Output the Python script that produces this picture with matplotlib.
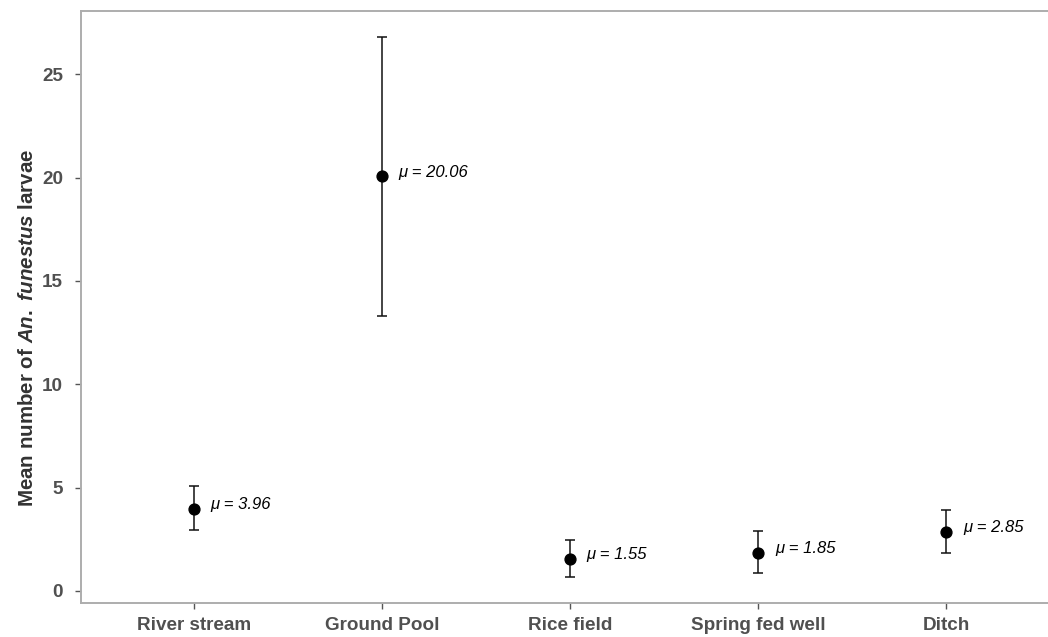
import matplotlib
matplotlib.use("Agg")
import matplotlib.pyplot as plt

# Larval habitat means with confidence limits
habitats = ["River stream", "Ground Pool", "Rice field", "Spring fed well", "Ditch"]
means = [3.96, 20.06, 1.55, 1.85, 2.85]
upper = [5.08, 26.80, 2.47, 2.92, 3.92]
lower = [2.94, 13.32, 0.69, 0.86, 1.85]

plt.rcParams["font.family"] = ["Liberation Sans", "DejaVu Sans"]
plt.rcParams["mathtext.fontset"] = "custom"
plt.rcParams["mathtext.rm"] = "Liberation Sans:bold"
plt.rcParams["mathtext.it"] = "Liberation Sans:bold:italic"

fig = plt.figure(figsize=(10.48, 6.37), dpi=100)
ax = fig.add_axes([81 / 1048, 33.7 / 637, (1048 - 81) / 1048, 592.6 / 637])

x = list(range(1, len(habitats) + 1))
err_lo = [m - l for m, l in zip(means, lower)]
err_hi = [u - m for m, u in zip(means, upper)]

ax.errorbar(x, means, yerr=[err_lo, err_hi], fmt="o", color="black",
            ecolor="#111111", elinewidth=1.1, capsize=3.7, capthick=1.1,
            markersize=7.8, zorder=3)

# mean labels next to each point
for xi, m in zip(x, means):
    ax.annotate(f"μ = {m:.2f}", (xi, m), xytext=(12, 3), textcoords="offset points",
                ha="left", va="center", fontsize=12, style="italic", color="black")

ax.set_xlim(0.4, 5.54)
ax.set_ylim(-0.6, 28.07)
ax.set_xticks(x)
ax.set_xticklabels(habitats)
ax.set_yticks([0, 5, 10, 15, 20, 25])

for lab in ax.get_xticklabels() + ax.get_yticklabels():
    lab.set_fontweight("bold")
    lab.set_color("#505050")
    lab.set_fontsize(13.6)

ax.tick_params(axis="both", length=4, width=1, color="#555555")
ax.tick_params(axis="y", pad=9)
ax.tick_params(axis="x", pad=6)

ax.set_ylabel(r"Mean number of $\mathit{An.\ funestus}$ larvae",
              fontsize=14.8, fontweight="bold", color="#333333")
ax.yaxis.set_label_coords(-0.046, 0.465)

for side in ["left", "bottom", "top"]:
    ax.spines[side].set_color("#ADADAD")
    ax.spines[side].set_linewidth(1.4)
ax.spines["right"].set_visible(False)

fig.savefig("out.png", dpi=100)
